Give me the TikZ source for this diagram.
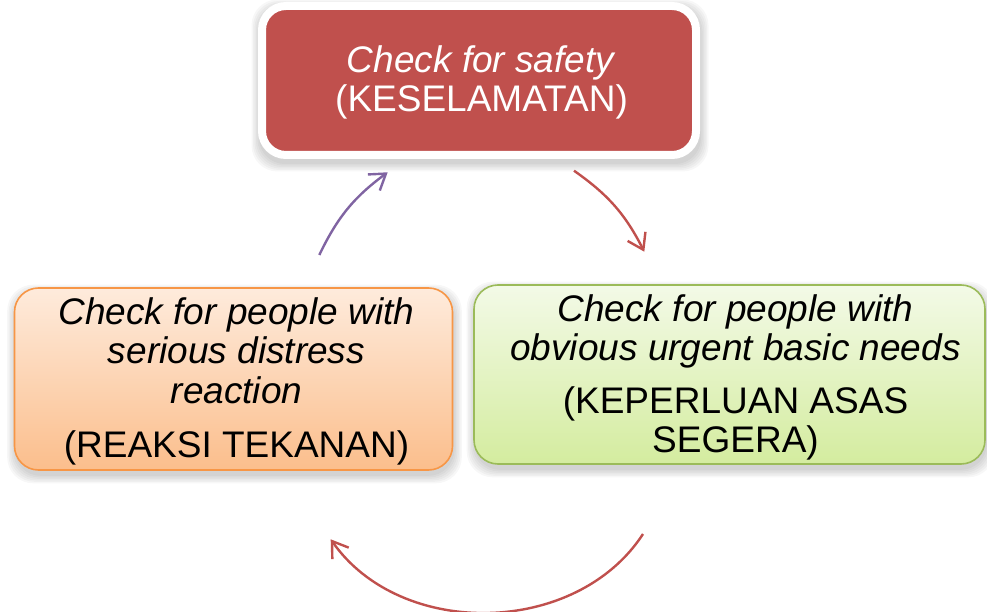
\documentclass[tikz,border=0pt]{standalone}
\usepackage{fontspec}
\setmainfont{Liberation Sans}
\usetikzlibrary{arrows.meta,calc,backgrounds}
\definecolor{boxred}{HTML}{C0504D}
\definecolor{arrowred}{HTML}{C0504D}
\definecolor{purplearr}{HTML}{8064A2}
\definecolor{orangeline}{HTML}{F79646}
\definecolor{orangetop}{HTML}{FEEBDC}
\definecolor{orangebot}{HTML}{FBBE8C}
\definecolor{greenline}{HTML}{9BBB59}
\definecolor{greentop}{HTML}{F3FAE7}
\definecolor{greenbot}{HTML}{D4EC9F}
\begin{document}
\begin{tikzpicture}[x=1pt,y=1pt,
  boxtext/.style={align=center, font=\fontsize{37}{39.5}\selectfont, inner sep=0pt},
  cyclebox/.style={rounded corners=24pt, line width=1.6pt, boxtext},
  cyclearrow/.style={line width=2.4pt, -{Straight Barb[length=15pt,width=20pt,line width=2.4pt]}},
]
\useasboundingbox (0,0) rectangle (987,611);

\node[cyclebox, draw=white, line width=8pt, fill=boxred, text=white,
      minimum width=434pt, minimum height=149pt] (safety) at (479,530.5)
  {\rule{0pt}{31pt}\hspace*{5pt}\textit{Check for safety}\\\hspace*{5pt}(KESELAMATAN)};

\node[cyclebox, draw=orangeline, top color=orangetop, bottom color=orangebot,
      minimum width=438pt, minimum height=182pt] (distress) at (233.5,232)
  {\rule{0pt}{32pt}\hspace*{6pt}\textit{Check for people with}\\\hspace*{6pt}\textit{serious distress}\\\hspace*{6pt}\textit{reaction}\\[15pt]\hspace*{6pt}(REAKSI TEKANAN)};

\node[cyclebox, draw=greenline, top color=greentop, bottom color=greenbot,
      minimum width=511pt, minimum height=179pt] (needs) at (729.5,236.5)
  {\rule{0pt}{33pt}\hspace*{12pt}\textit{Check for people with}\\\hspace*{12pt}\textit{obvious urgent basic needs}\\[13pt]\hspace*{12pt}(KEPERLUAN ASAS\\\hspace*{12pt}SEGERA)};

\begin{scope}[on background layer]
\foreach \n in {safety, distress, needs} {
  \foreach \e in {0,1.5,...,7.5} {
    \fill[black, opacity=0.03, rounded corners=26pt]
      ($(\n.south west)+(-\e+1,-\e-5)$) rectangle ($(\n.north east)+(\e+1,\e-5)$);
  }
}
\end{scope}

\coordinate (p1) at (319.3,356);
\coordinate (p2) at (387.7,438.7);
\coordinate (r1) at (574,440.3);
\coordinate (r2) at (644.3,359.3);
\coordinate (b1) at (643,77);
\coordinate (b2) at (330.7,71.7);

\draw[cyclearrow, purplearr] (p1) to[bend left=14] (p2);
\draw[cyclearrow, arrowred] (r1) to[bend left=14] (r2);
\draw[cyclearrow, arrowred] (b1) to[bend left=56] (b2);
\end{tikzpicture}
\end{document}
